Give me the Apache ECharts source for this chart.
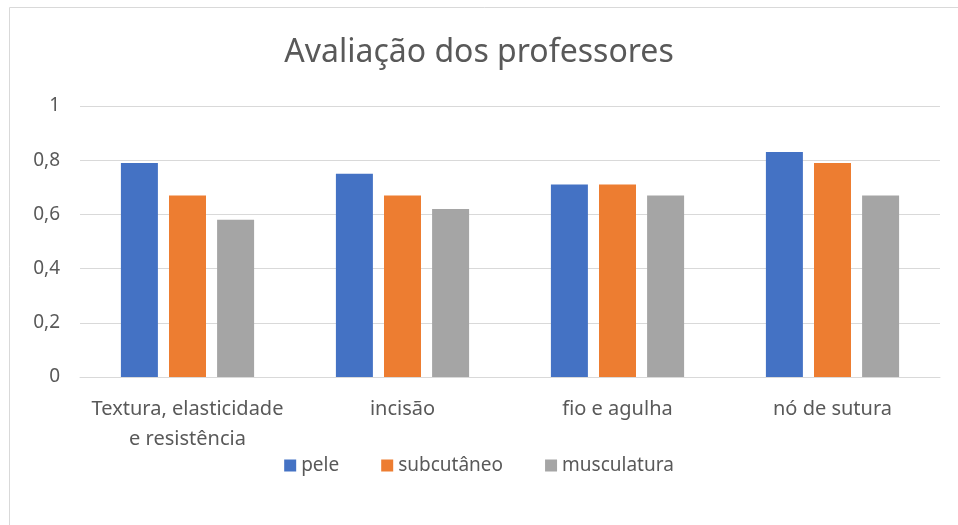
<!DOCTYPE html>
<html>
<head>
<meta charset="utf-8">
<script src="https://cdn.jsdelivr.net/npm/echarts@6/dist/echarts.min.js"></script>
<style>
  html, body { margin: 0; padding: 0; background: #fff; }
  #chart { width: 958px; height: 525px; }
</style>
</head>
<body>
<div id="chart"></div>
<script>
var categories = ['Textura, elasticidade\ne resistência', 'incisão', 'fio e agulha', 'nó de sutura'];
var seriesNames = ['pele', 'subcutâneo', 'musculatura'];
var pele = [0.79, 0.75, 0.71, 0.83];
var subcutaneo = [0.67, 0.67, 0.71, 0.79];
var musculatura = [0.58, 0.62, 0.67, 0.67];
var yTicks = [0, 0.2, 0.4, 0.6, 0.8, 1];

var colors = ['#4472c4', '#ed7d31', '#a5a5a5'];
var font = 'Noto Sans';

function makeSeries(name, data, i) {
    return {
        name: name,
        type: 'bar',
        data: data,
        barWidth: 37,
        barGap: '30%',
        itemStyle: { color: colors[i] }
    }
}

var chart = echarts.init(document.getElementById('chart'));
chart.setOption({
    animation: false,
    textStyle: { fontFamily: font },
    title: {
        text: 'Avaliação dos professores',
        left: 'center',
        top: 32,
        textStyle: { fontFamily: font, fontSize: 32, fontWeight: 'normal', color: '#595959' }
    },
    legend: {
        data: seriesNames,
        top: 451,
        left: 'center',
        itemWidth: 12,
        itemHeight: 12,
        itemGap: 42,
        icon: 'rect',
        textStyle: { fontFamily: font, fontSize: 19, color: '#595959' }
    },
    grid: { left: 80, right: 18, top: 106, bottom: 148, containLabel: false },
    xAxis: {
        type: 'category',
        data: categories,
        axisTick: { show: false },
        axisLine: { lineStyle: { color: '#d9d9d9', width: 1 } },
        axisLabel: { fontFamily: font, fontSize: 20, color: '#595959', margin: 17, lineHeight: 30, interval: 0 }
    },
    yAxis: {
        type: 'value',
        min: yTicks[0],
        max: yTicks[yTicks.length - 1],
        interval: 0.2,
        axisLine: { show: false },
        axisTick: { show: false },
        splitLine: { lineStyle: { color: '#d9d9d9', width: 1 } },
        axisLabel: {
            fontFamily: font, fontSize: 19, color: '#595959', margin: 20,
            formatter: function(v) { return String(Math.round(v * 10) / 10).replace('.', ','); }
        }
    },
    graphic: [{
        type: 'rect',
        shape: { x: 9.5, y: 7.5, width: 1000, height: 600 },
        style: { fill: 'none', stroke: '#d9d9d9', lineWidth: 1 },
        silent: true
    }],
    series: [
        makeSeries(seriesNames[0], pele, 0),
        makeSeries(seriesNames[1], subcutaneo, 1),
        makeSeries(seriesNames[2], musculatura, 2)
    ]
});
</script>
</body>
</html>
